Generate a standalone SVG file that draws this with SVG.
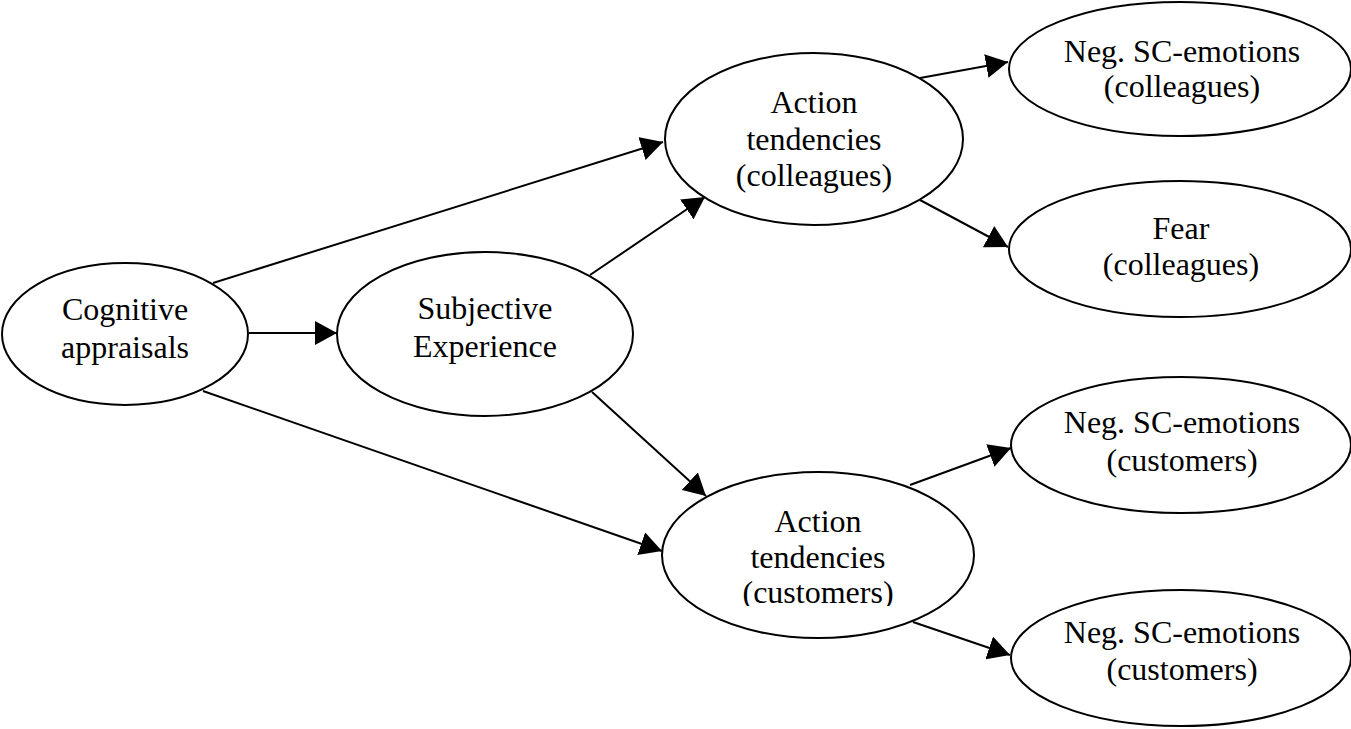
<svg xmlns="http://www.w3.org/2000/svg" width="1351" height="729" viewBox="0 0 1351 729">
<style>
.n{fill:#fff;stroke:#000;stroke-width:2}
.t{font-family:"Liberation Serif","Times New Roman",serif;font-size:32px;fill:#000;text-anchor:middle}
.e{stroke:#000;stroke-width:2;fill:none;marker-end:url(#ah)}
</style>
<defs>
<marker id="ah" viewBox="0 0 22 24" refX="22" refY="12" markerWidth="22" markerHeight="24" markerUnits="userSpaceOnUse" orient="auto">
<path d="M0,0 L22,12 L0,24 z" fill="#000"/>
</marker>
<clipPath id="cc"><rect x="600" y="460" width="450" height="146"/></clipPath>
</defs>
<rect width="1351" height="729" fill="#fff"/>
<g id="edges">
<line class="e" x1="249" y1="333" x2="337" y2="333"/>
<line class="e" x1="213" y1="283" x2="663" y2="142"/>
<line class="e" x1="203" y1="391" x2="662" y2="551"/>
<line class="e" x1="590" y1="275" x2="705" y2="197"/>
<line class="e" x1="592" y1="392" x2="706" y2="496"/>
<line class="e" x1="920" y1="78" x2="1008" y2="62"/>
<line class="e" x1="920" y1="200" x2="1008" y2="247"/>
<line class="e" x1="910" y1="485" x2="1011" y2="448"/>
<line class="e" x1="913" y1="622" x2="1010" y2="655"/>
</g>
<g id="cognitive">
<ellipse class="n" cx="125" cy="334" rx="123" ry="71"/>
<text class="t" x="125" y="320">Cognitive</text>
<text class="t" x="125" y="358">appraisals</text>
</g>
<g id="subjective">
<ellipse class="n" cx="485" cy="334" rx="148" ry="82"/>
<text class="t" x="485" y="319">Subjective</text>
<text class="t" x="485" y="357">Experience</text>
</g>
<g id="action-colleagues">
<ellipse class="n" cx="814" cy="139" rx="149" ry="86"/>
<text class="t" x="814" y="113">Action</text>
<text class="t" x="814" y="150">tendencies</text>
<text class="t" x="814" y="186">(colleagues)</text>
</g>
<g id="action-customers">
<ellipse class="n" cx="818" cy="555" rx="156" ry="83"/>
<g clip-path="url(#cc)">
<text class="t" x="818" y="532">Action</text>
<text class="t" x="818" y="568">tendencies</text>
<text class="t" x="818" y="603">(customers)</text>
</g>
</g>
<g id="neg-colleagues">
<ellipse class="n" cx="1180" cy="69" rx="171" ry="67"/>
<text class="t" x="1182" y="62">Neg. SC-emotions</text>
<text class="t" x="1182" y="97">(colleagues)</text>
</g>
<g id="fear-colleagues">
<ellipse class="n" cx="1180" cy="249" rx="171" ry="68"/>
<text class="t" x="1181" y="239">Fear</text>
<text class="t" x="1181" y="275">(colleagues)</text>
</g>
<g id="neg-customers-1">
<ellipse class="n" cx="1181" cy="445" rx="170" ry="68"/>
<text class="t" x="1182" y="433">Neg. SC-emotions</text>
<text class="t" x="1182" y="471">(customers)</text>
</g>
<g id="neg-customers-2">
<ellipse class="n" cx="1181" cy="658" rx="170" ry="68"/>
<text class="t" x="1182" y="643">Neg. SC-emotions</text>
<text class="t" x="1182" y="680">(customers)</text>
</g>
</svg>
